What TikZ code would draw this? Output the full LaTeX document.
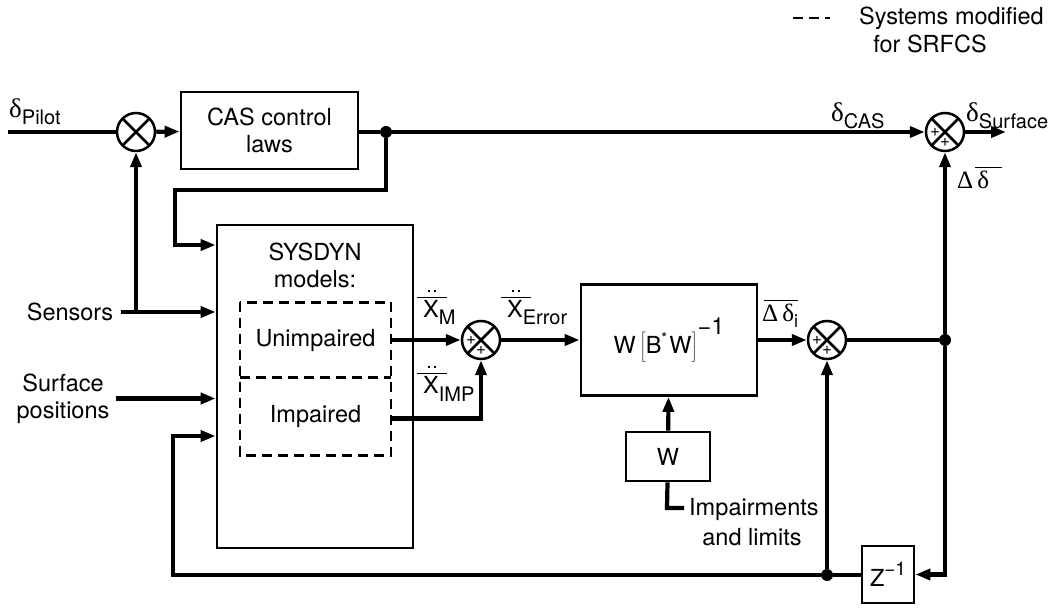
\documentclass[tikz,border=0pt]{standalone}
\usepackage{fontspec}
\setmainfont{TeX Gyre Heros}
\newfontfamily\grk{Liberation Serif}
\usetikzlibrary{arrows.meta}
\newcommand\subtxt[1]{\raisebox{-7pt}{\fontsize{20}{20}\selectfont #1}}
\newcommand\dlt{{\grk\fontsize{27}{27}\selectfont δ}}
\newcommand\xdd[1]{%
  \makebox[0pt][l]{\hspace{-6pt}\raisebox{20pt}{\rule{30pt}{1.4pt}}}%
  \makebox[0pt][l]{\hspace{5pt}\raisebox{26pt}{\rule{2pt}{2pt}\hspace{4pt}\rule{2pt}{2pt}}}%
  X\subtxt{#1}}
\begin{document}
\begin{tikzpicture}[x=1pt,y=-1pt,
  font=\fontsize{23.5}{27}\selectfont,
  tip/.tip={Triangle[length=15pt,width=11pt]},
  conn/.style={line width=4.2pt,-tip},
  wire/.style={line width=4.2pt},
  blk/.style={draw,line width=2.8pt,inner sep=0pt,align=center},
  dbox/.style={draw,line width=2.5pt,dash pattern=on 10pt off 6pt},
  txt/.style={inner sep=0pt,align=center},
  dot/.style={circle,fill,inner sep=0pt,minimum size=12pt},
  sumj/.style={circle,draw,line width=2.5pt,minimum size=38pt,inner sep=0pt,
    path picture={\draw[line width=2.5pt]
      (path picture bounding box.north west)--(path picture bounding box.south east)
      (path picture bounding box.north east)--(path picture bounding box.south west);}},
  pl/.style={inner sep=0pt,font=\fontsize{17}{17}\selectfont}
]
\useasboundingbox (0,0) rectangle (1052,609);

% blocks
\node[blk,minimum width=177pt,minimum height=77pt] (cas) at (269.5,130.5) {CAS control\\laws};
\node[blk,minimum width=196pt,minimum height=323pt] (sys) at (315,386.5) {};
\node[txt] (systxt) at (315,265) {SYSDYN\\models:};
\node[txt,minimum width=151pt,minimum height=75pt] (unimp) at (315.5,340) {Unimpaired};
\node[txt,minimum width=151pt,minimum height=78pt] (imp) at (315.5,416.5) {Impaired};
\draw[dbox] (unimp.north west) rectangle (imp.south east);
\draw[dbox] (unimp.south west) -- (unimp.south east);
\node[blk,minimum width=176pt,minimum height=111pt] (inv) at (669,340)
  {W\,$\left[\vphantom{\rule{1pt}{22pt}}\right.$\hspace{-1pt}B\raisebox{10pt}{\fontsize{15}{15}\selectfont *}\hspace{2pt}W\hspace{-1pt}$\left.\vphantom{\rule{1pt}{22pt}}\right]$\raisebox{19pt}{−1}};
\node[blk,minimum width=84pt,minimum height=49pt] (wblk) at (668,456.5) {W};
\node[blk,minimum width=52pt,minimum height=57pt] (zblk) at (888,574.5) {Z\raisebox{11pt}{\fontsize{19}{19}\selectfont −1}};

% summing junctions
\node[sumj] (s1) at (136,132) {};
\node[sumj] (s2) at (481,340) {};
\node[sumj] (s3) at (827,340) {};
\node[sumj] (s4) at (945,132) {};
\foreach \s in {s2,s3,s4}{
  \node[pl] at ([xshift=-10pt]\s.center) {+};
  \node[pl] at ([yshift=-10pt]\s.center) {+};
}

% dots
\node[dot] (d1) at (386,132) {};
\node[dot] (d2) at (945,340) {};
\node[dot] (d3) at (827,575) {};

% coordinates
\coordinate (pin) at (8,132);
\coordinate (out) at (1006,132);
\coordinate (c1) at (175,190);
\coordinate (c2) at (175,245);
\coordinate (t1) at (136,312);
\coordinate (fb) at (173,575);
\coordinate (fb2) at (173,436);
\coordinate (ia) at (667,508);
\coordinate (ib) at (684,508);

% input labels
\node[txt] (sens) at (70,312) {Sensors};
\node[txt] (surf) at (63,398.5) {Surface\\positions};
\node[txt,anchor=west] (impl) at (689,509) {Impairments};
\node[txt] (impl2) at (752,537) {and limits};

% connectors
\draw[wire] (pin) -- (s1);
\draw[conn] (s1) -- (cas);
\draw[wire] (cas.east |- d1) -- (d1);
\draw[conn] (d1) -- (s4);
\draw[conn] (d1) |- (c1) |- (sys.west |- c2);
\draw[conn] ([xshift=8pt]sens.east) -- (sys.west |- sens.east);
\draw[conn] (t1) -- (s1);
\draw[conn] ([xshift=6pt]surf.east) -- (sys.west |- surf.east);
\draw[conn] (d3) -| (fb) -- (fb2) -- (sys.west |- fb2);
\draw[conn] (unimp.east) -- (s2);
\draw[conn] ([yshift=-2pt]imp.east) -| (s2);
\draw[conn] (s2) -- (inv);
\draw[conn] (inv) -- (s3);
\draw[wire] (s3) -- (d2);
\draw[conn] (d2) -- (s4);
\draw[conn] (d2) |- (zblk.east);
\draw[wire] (zblk.west |- d3) -- (d3);
\draw[conn] (d3) -- (s3);
\draw[conn] (wblk) -- (inv);
\draw[wire] (wblk) -- (ia) -- (ib);
\draw[conn] (s4) -- (out);

% signal labels
\node[txt,anchor=base west] at (9,118) {\dlt\subtxt{Pilot}};
\node[txt,anchor=base west] at (831,122) {\dlt\subtxt{CAS}};
\node[txt,anchor=base west] at (966,122) {\dlt\subtxt{Surface}};
\node[txt,anchor=base west] at (957,189) {{\grk\fontsize{25}{25}\selectfont Δ\,δ}\makebox[0pt][l]{\hspace{-14pt}\raisebox{21pt}{\rule{27pt}{1.4pt}}}};
\node[txt,anchor=base west] at (423,318) {\xdd{M}};
\node[txt,anchor=base west] at (423,394) {\xdd{IMP}};
\node[txt,anchor=base west] at (507,318) {\xdd{Error}};
\node[txt,anchor=base west] at (762,322) {{\grk\fontsize{25}{25}\selectfont Δ\,δ}\raisebox{-6pt}{\fontsize{18}{18}\selectfont i}\makebox[0pt][r]{\raisebox{21pt}{\rule{34pt}{1.4pt}}}};

% legend
\draw[dbox] (793,18) -- (830,18);
\node[txt,anchor=east] at (1044,18) {Systems modified};
\node[txt] at (930,44) {for SRFCS};
\end{tikzpicture}
\end{document}
